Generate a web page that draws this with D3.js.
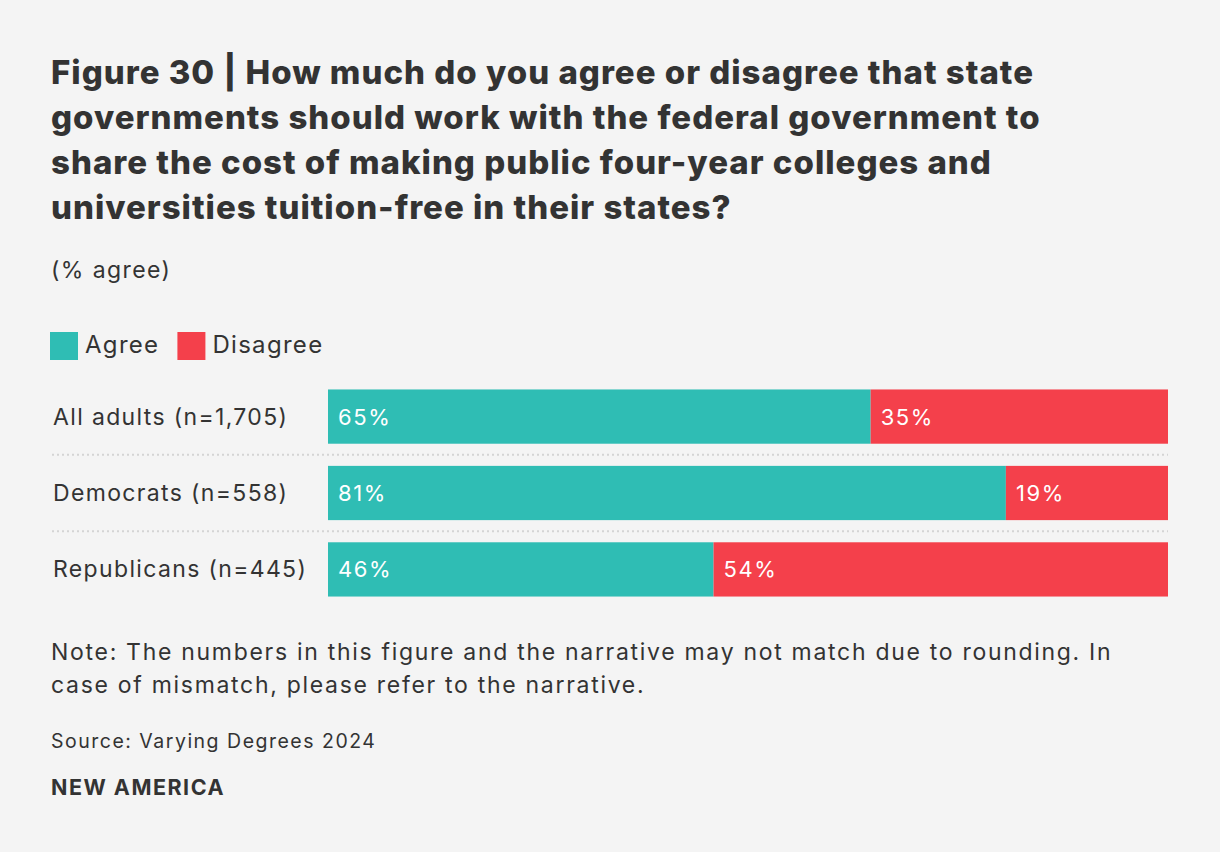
<!DOCTYPE html>
<html>
<head>
<meta charset="utf-8">
<script src="https://cdn.jsdelivr.net/npm/d3@7"></script>
<style>
  body { margin: 0; background: #f4f4f4; }
  svg { display: block; font-family: Inter, "Noto Sans", sans-serif; }
</style>
</head>
<body>
<div class="chart"></div>
<script>
const categories = ['All adults (n=1,705)', 'Democrats (n=558)', 'Republicans (n=445)'];
const seriesNames = ['Agree', 'Disagree'];
const agree = [64.6, 80.7, 45.9];
const disagree = [35.4, 19.3, 54.1];
const colors = ['#2fbdb4', '#f4404b'];

const titleLines = [
  'Figure 30 | How much do you agree or disagree that state',
  'governments should work with the federal government to',
  'share the cost of making public four-year colleges and',
  'universities tuition-free in their states?'
];
const noteLines = [
  'Note: The numbers in this figure and the narrative may not match due to rounding. In',
  'case of mismatch, please refer to the narrative.'
];

const W = 1220, H = 852;
const ink = '#333';

const svg = d3.select('.chart').append('svg')
  .attr('width', W).attr('height', H);

svg.append('rect').attr('width', W).attr('height', H).attr('fill', '#f4f4f4');

// title
svg.append('g').selectAll('text')
  .data(titleLines).enter().append('text')
  .attr('x', 51).attr('y', (d, i) => 84 + i * 45)
  .attr('font-size', 33).attr('font-weight', 800).attr('fill', ink)
  .attr('letter-spacing', 1.0)
  .text(d => d);

svg.append('text').attr('x', 51).attr('y', 278)
  .attr('font-size', 23).attr('fill', ink).attr('letter-spacing', 1.4).text('(% agree)');

// legend
const legend = svg.append('g').attr('transform', 'translate(50,332)');
let lx = 0;
seriesNames.forEach((s, i) => {
  const g = legend.append('g').attr('transform', `translate(${lx},0)`);
  g.append('rect').attr('width', 28).attr('height', 28).attr('fill', colors[i]);
  const t = g.append('text').attr('x', 35).attr('y', 21)
    .attr('font-size', 24).attr('fill', ink).attr('letter-spacing', 1.3).text(s);
  lx += 35 + t.node().getComputedTextLength() + 18;
});

// bars
const data = categories.map((c, i) => ({cat: c, vals: [agree[i], disagree[i]]}));
const x = d3.scaleLinear().domain([0, 100]).range([328, 1168]);
const y = d3.scaleBand().domain(categories).range([378, 608]).paddingInner(0.29).paddingOuter(0.15);

const rows = svg.append('g').selectAll('g')
  .data(data).enter().append('g');

rows.each(function(d) {
  const g = d3.select(this);
  let acc = 0;
  d.vals.forEach((v, j) => {
    g.append('rect')
      .attr('x', x(acc)).attr('y', y(d.cat))
      .attr('width', x(acc + v) - x(acc)).attr('height', y.bandwidth())
      .attr('fill', colors[j]);
    g.append('text')
      .attr('x', x(acc) + 10).attr('y', y(d.cat) + y.bandwidth() / 2 + 8)
      .attr('font-size', 22).attr('fill', '#fff').attr('letter-spacing', 1.6)
      .text(Math.round(v) + '%');
    acc += v;
  });
  g.append('text')
    .attr('x', 53).attr('y', y(d.cat) + y.bandwidth() / 2 + 8)
    .attr('font-size', 23).attr('fill', ink).attr('letter-spacing', 1.35).text(d.cat);
});

// dotted separators
const seps = categories.slice(0, -1);
svg.append('g').selectAll('line').data(seps).enter().append('line')
  .attr('x1', 52).attr('x2', 1168)
  .attr('y1', d => y(d) + y.bandwidth() + (y.step() - y.bandwidth()) / 2)
  .attr('y2', d => y(d) + y.bandwidth() + (y.step() - y.bandwidth()) / 2)
  .attr('stroke', '#d4d4d4').attr('stroke-width', 2).attr('stroke-dasharray', '2,3');

// notes
svg.append('g').selectAll('text').data(noteLines).enter().append('text')
  .attr('x', 51).attr('y', (d, i) => 660 + i * 33)
  .attr('font-size', 23).attr('fill', ink).attr('letter-spacing', 1.7).text(d => d);

svg.append('text').attr('x', 51).attr('y', 748)
  .attr('font-size', 19.5).attr('fill', ink).attr('letter-spacing', 1.5).text('Source: Varying Degrees 2024');

svg.append('text').attr('x', 51).attr('y', 795)
  .attr('font-size', 21.5).attr('font-weight', 700).attr('fill', ink).attr('letter-spacing', 1.5).text('NEW AMERICA');
</script>
</body>
</html>
